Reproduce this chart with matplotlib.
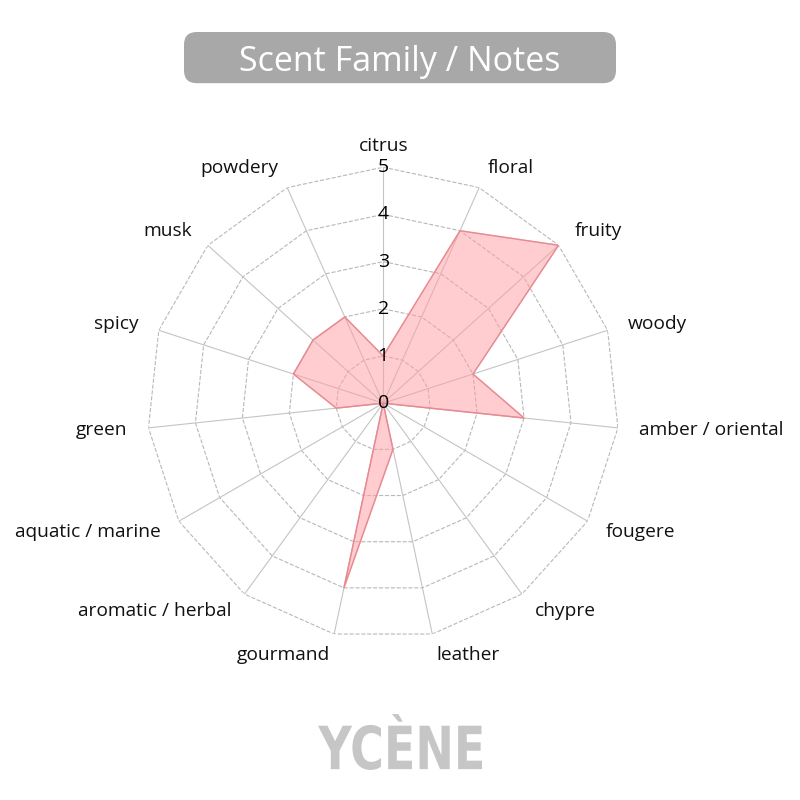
import numpy as np
import matplotlib.pyplot as plt
from matplotlib.patches import FancyBboxPatch, PathPatch
from matplotlib.textpath import TextPath
from matplotlib.font_manager import FontProperties
from matplotlib.transforms import Affine2D

# Scent family scores (0-5), clockwise from top
categories = ['citrus', 'floral', 'fruity', 'woody', 'amber / oriental', 'fougere',
              'chypre', 'leather', 'gourmand', 'aromatic / herbal', 'aquatic / marine',
              'green', 'spicy', 'musk', 'powdery']
scores = [1, 4, 5, 2, 3, 0, 0, 1, 4, 0, 0, 1, 2, 2, 2]
levels = [0, 1, 2, 3, 4, 5]

title_text = 'Scent Family / Notes'
brand_text = 'YC\u00c8NE'

plt.rcParams['font.family'] = ['Open Sans', 'DejaVu Sans']

fig = plt.figure(figsize=(8, 8), dpi=100)
fig.patch.set_facecolor('white')

# Title in a gray rounded box
box = FancyBboxPatch((0.23, 0.896), 0.54, 0.064,
                     boxstyle='round,pad=0.0,rounding_size=0.016',
                     transform=fig.transFigure, facecolor='#a8a8a8', edgecolor='none')
fig.add_artist(box)
fig.text(0.5, 0.923, title_text, ha='center', va='center', fontsize=24.5, color='white')

# Radar chart
ax = fig.add_axes([0.184, 0.201, 0.59, 0.59], projection='polar')
ax.set_theta_offset(np.pi / 2)
ax.set_theta_direction(-1)

n = len(categories)
angles = np.linspace(0, 2 * np.pi, n, endpoint=False)
ang_closed = np.append(angles, angles[0])
vals_closed = np.append(scores, scores[0])

ax.set_ylim(0, max(levels))
ax.set_yticks(levels[1:])
ax.set_yticklabels([])
ax.set_xticks(angles)
ax.set_xticklabels([])
ax.yaxis.grid(False)
ax.xaxis.grid(True, color='#c4c4c4', linestyle='-', linewidth=0.8)
ax.spines['polar'].set_visible(False)
ax.set_facecolor('none')

# polygon grid (straight dashed segments between spokes)
for lv in levels[1:]:
    ax.plot(ang_closed, np.full_like(ang_closed, lv, dtype=float), color='#b8b8b8',
            linestyle='--', linewidth=0.8, zorder=1)

ax.fill(ang_closed, vals_closed, color='#ff9da2', alpha=0.5, zorder=2)
ax.plot(ang_closed, vals_closed, color='#e58a91', linewidth=1, zorder=3)

# radial value labels along the citrus axis
for lv in levels:
    ax.text(0, lv, str(lv), ha='center', va='center', fontsize=14, color='black', zorder=5)

# category labels
for a, name in zip(angles, categories):
    s = np.sin(a)
    if s > 0.01:
        ha = 'left'
    elif s < -0.01:
        ha = 'right'
    else:
        ha = 'center'
    ax.text(a, 5.45, name, ha=ha, va='center', fontsize=13.8, color='#111111')

# Brand wordmark, condensed bold
fp = FontProperties(family='Liberation Sans Narrow', weight='bold')
tp = TextPath((0, 0), brand_text, size=1, prop=fp)
ext = tp.get_extents()
sx = (164 / 800) / ext.width
sy = (56 / 800) / ext.height
trans = Affine2D().translate(-ext.x0, -ext.y0).scale(sx, sy).translate(318 / 800, 30 / 800)
logo = PathPatch(trans.transform_path(tp), facecolor='#c6c6c6', edgecolor='none',
                 transform=fig.transFigure)
fig.add_artist(logo)

plt.savefig('out.png', dpi=100, facecolor='white')
plt.close()
